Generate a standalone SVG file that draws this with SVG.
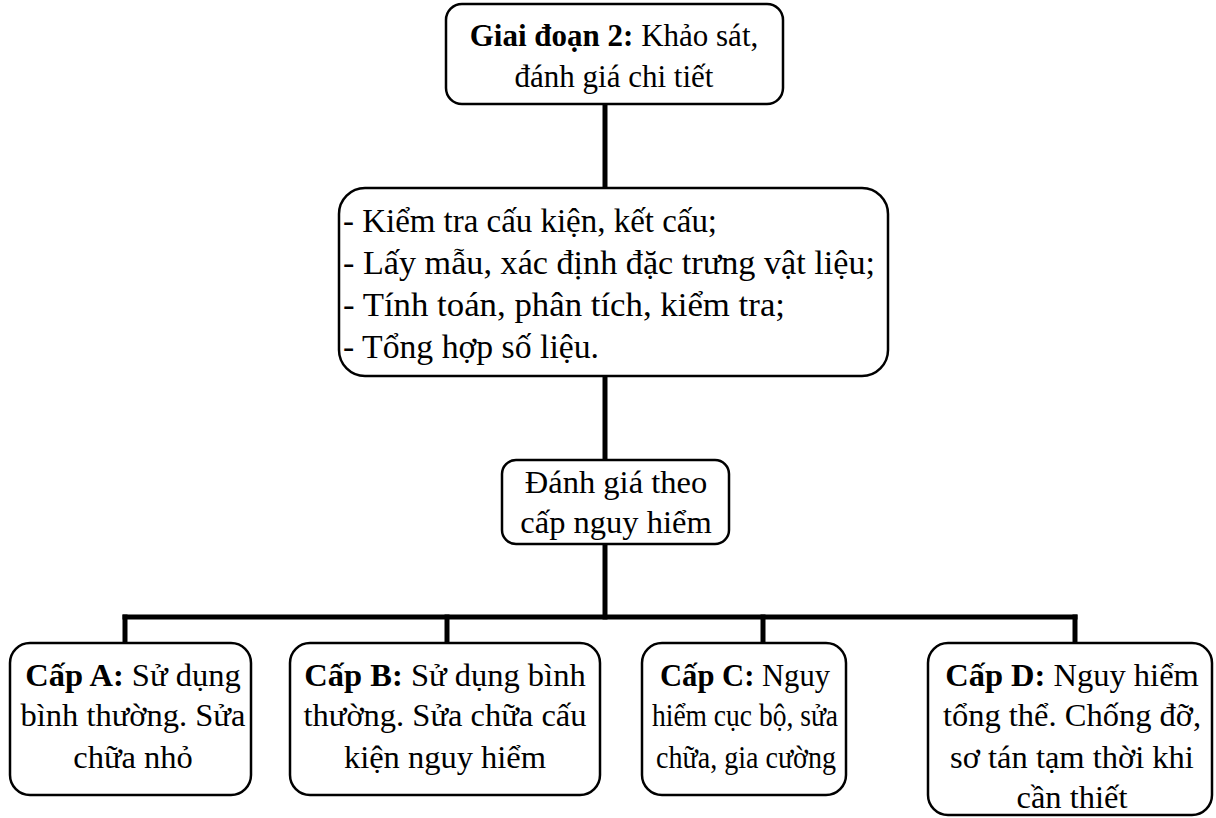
<svg xmlns="http://www.w3.org/2000/svg" width="1216" height="818" viewBox="0 0 1216 818">
<style>
.box{fill:#fff;stroke:#000;stroke-width:2.5}
.conn{stroke:#000;stroke-width:5;fill:none;stroke-linecap:square}
.t{font-family:'Liberation Serif','DejaVu Serif',serif;font-size:32.5px;fill:#000}
.top{font-size:31px}
.mid{font-size:34px}
.c{text-anchor:middle}
.b{font-weight:bold}
</style>
<rect width="1216" height="818" fill="#fff"/>
<g id="connectors">
<line class="conn" x1="605" y1="104" x2="605" y2="187"/>
<line class="conn" x1="605" y1="376" x2="605" y2="460"/>
<line class="conn" x1="605" y1="544" x2="605" y2="617"/>
<line class="conn" x1="125" y1="617" x2="1075" y2="617"/>
<line class="conn" x1="125" y1="617" x2="125" y2="643"/>
<line class="conn" x1="447" y1="617" x2="447" y2="643"/>
<line class="conn" x1="763" y1="617" x2="763" y2="643"/>
<line class="conn" x1="1075" y1="617" x2="1075" y2="643"/>
</g>
<g id="stage2" class="t top">
<rect class="box" x="446" y="4" width="337" height="100" rx="16"/>
<text class="c" x="614" y="46"><tspan class="b">Giai đoạn 2:</tspan> Khảo sát,</text>
<text class="c" x="614" y="87">đánh giá chi tiết</text>
</g>
<g id="tasks" class="t mid">
<rect class="box" x="339" y="188" width="549" height="188" rx="26"/>
<text x="343" y="232" textLength="374" lengthAdjust="spacingAndGlyphs">- Kiểm tra cấu kiện, kết cấu;</text>
<text x="343" y="274" textLength="532" lengthAdjust="spacingAndGlyphs">- Lấy mẫu, xác định đặc trưng vật liệu;</text>
<text x="343" y="316" textLength="442" lengthAdjust="spacingAndGlyphs">- Tính toán, phân tích, kiểm tra;</text>
<text x="343" y="358" textLength="256" lengthAdjust="spacingAndGlyphs">- Tổng hợp số liệu.</text>
</g>
<g id="assess" class="t">
<rect class="box" x="502" y="460" width="227" height="84" rx="14"/>
<text class="c" x="616" y="493">Đánh giá theo</text>
<text class="c" x="616" y="533">cấp nguy hiểm</text>
</g>
<g id="levelA" class="t">
<rect class="box" x="10" y="643" width="241" height="152" rx="20"/>
<text class="c" x="133" y="686"><tspan class="b">Cấp A:</tspan> Sử dụng</text>
<text class="c" x="133" y="726">bình thường. Sửa</text>
<text class="c" x="133" y="768">chữa nhỏ</text>
</g>
<g id="levelB" class="t">
<rect class="box" x="290" y="643" width="310" height="152" rx="20"/>
<text class="c" x="445" y="686"><tspan class="b">Cấp B:</tspan> Sử dụng bình</text>
<text class="c" x="445" y="726">thường. Sửa chữa cấu</text>
<text class="c" x="445" y="768">kiện nguy hiểm</text>
</g>
<g id="levelC" class="t">
<rect class="box" x="642" y="643" width="204" height="152" rx="20"/>
<text class="c" x="745" y="686" textLength="170" lengthAdjust="spacingAndGlyphs"><tspan class="b">Cấp C:</tspan> Nguy</text>
<text class="c" x="745" y="726" textLength="186" lengthAdjust="spacingAndGlyphs">hiểm cục bộ, sửa</text>
<text class="c" x="746" y="768" textLength="180" lengthAdjust="spacingAndGlyphs">chữa, gia cường</text>
</g>
<g id="levelD" class="t">
<rect class="box" x="928" y="643" width="284" height="172" rx="20"/>
<text class="c" x="1072" y="686"><tspan class="b">Cấp D:</tspan> Nguy hiểm</text>
<text class="c" x="1072" y="726">tổng thể. Chống đỡ,</text>
<text class="c" x="1072" y="768">sơ tán tạm thời khi</text>
<text class="c" x="1072" y="808">cần thiết</text>
</g>
</svg>
